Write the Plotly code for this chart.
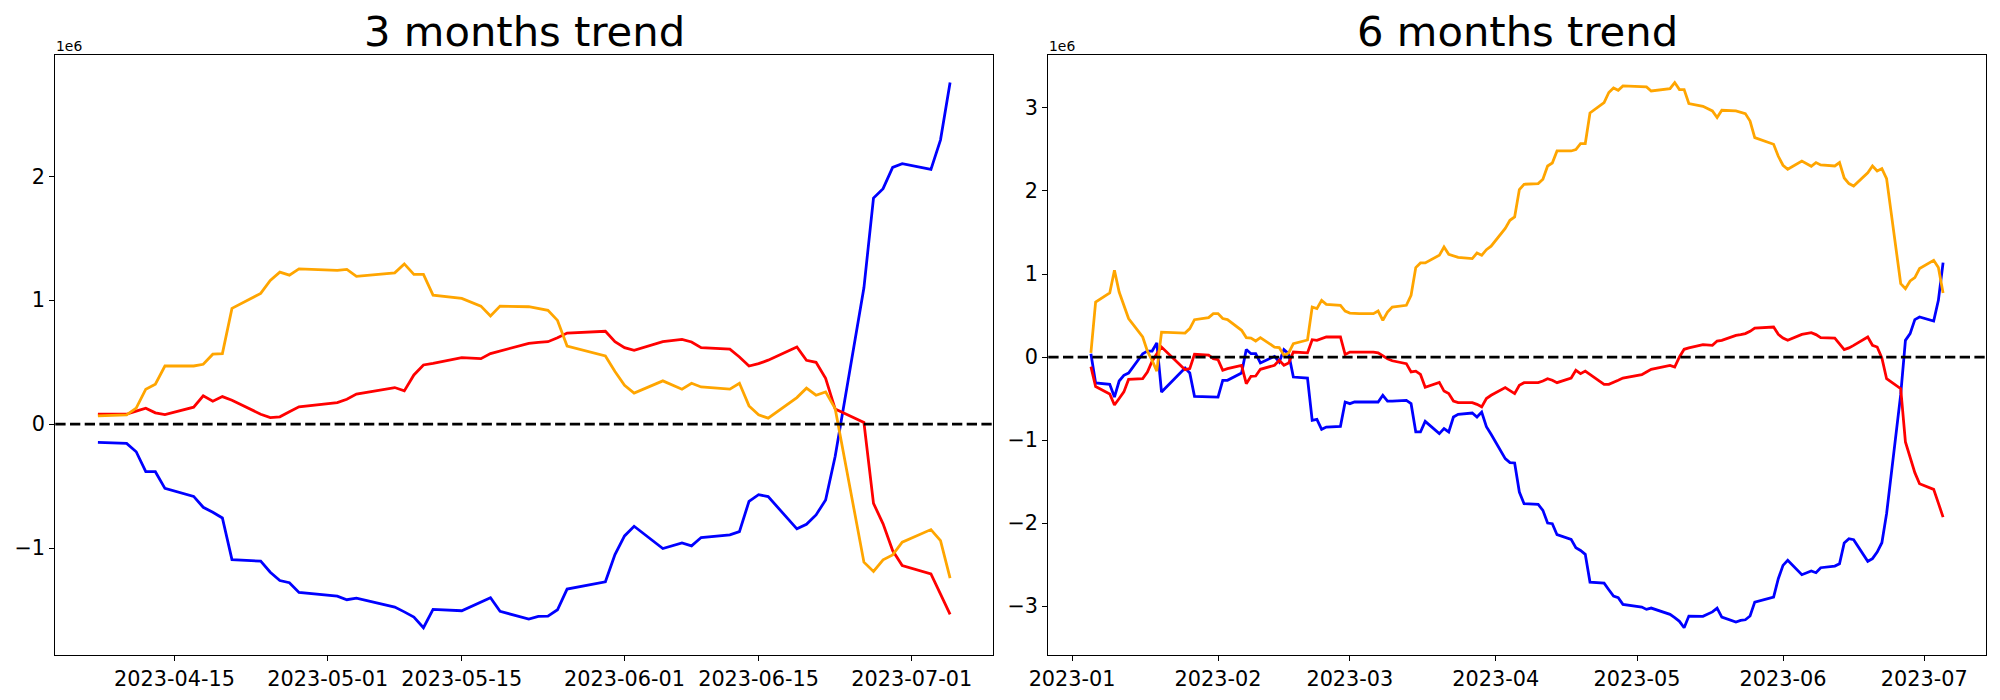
import plotly.graph_objects as go
import pandas as pd

# ---------------- data (values in units of 1e6) ----------------
dates_3m = [
    "2023-04-07", "2023-04-10", "2023-04-11", "2023-04-12", "2023-04-13", "2023-04-14",
    "2023-04-17", "2023-04-18", "2023-04-19", "2023-04-20", "2023-04-21",
    "2023-04-24", "2023-04-25", "2023-04-26", "2023-04-27", "2023-04-28",
    "2023-05-02", "2023-05-03", "2023-05-04",
    "2023-05-08", "2023-05-09", "2023-05-10", "2023-05-11", "2023-05-12",
    "2023-05-15", "2023-05-17", "2023-05-18", "2023-05-19",
    "2023-05-22", "2023-05-23", "2023-05-24", "2023-05-25", "2023-05-26",
    "2023-05-30", "2023-05-31", "2023-06-01", "2023-06-02",
    "2023-06-05", "2023-06-07", "2023-06-08", "2023-06-09",
    "2023-06-12", "2023-06-13", "2023-06-14", "2023-06-15", "2023-06-16",
    "2023-06-19", "2023-06-20", "2023-06-21", "2023-06-22", "2023-06-23",
    "2023-06-26", "2023-06-27", "2023-06-28", "2023-06-29", "2023-06-30",
    "2023-07-03", "2023-07-04", "2023-07-05",
]
blue_3m = [
    -0.148, -0.156, -0.223, -0.384, -0.384, -0.518,
    -0.583, -0.671, -0.711, -0.757, -1.093,
    -1.106, -1.195, -1.262, -1.280, -1.358,
    -1.388, -1.417, -1.404,
    -1.476, -1.515, -1.557, -1.643, -1.495,
    -1.506, -1.436, -1.401, -1.511,
    -1.573, -1.552, -1.549, -1.498, -1.331,
    -1.272, -1.052, -0.902, -0.824,
    -1.004, -0.958, -0.982, -0.915,
    -0.894, -0.867, -0.623, -0.569, -0.585,
    -0.845, -0.808, -0.733, -0.612, -0.260,
    1.100, 1.824, 1.900, 2.072, 2.101,
    2.056, 2.294, 2.756,
]
red_3m = [
    0.080, 0.080, 0.105, 0.129, 0.091, 0.077,
    0.137, 0.228, 0.185, 0.222, 0.193,
    0.080, 0.053, 0.059, 0.099, 0.139,
    0.174, 0.201, 0.242,
    0.295, 0.268, 0.397, 0.477, 0.490,
    0.536, 0.528, 0.569, 0.590,
    0.652, 0.660, 0.665, 0.697, 0.735,
    0.749, 0.665, 0.617, 0.596,
    0.665, 0.684, 0.663, 0.617,
    0.605, 0.542, 0.469, 0.488, 0.516,
    0.622, 0.515, 0.499, 0.370, 0.121,
    0.013, -0.639, -0.805, -1.020, -1.141,
    -1.208, -1.372, -1.535,
]
orange_3m = [
    0.067, 0.075, 0.129, 0.282, 0.322, 0.469,
    0.469, 0.483, 0.564, 0.569, 0.934,
    1.055, 1.159, 1.226, 1.202, 1.253,
    1.240, 1.248, 1.192,
    1.221, 1.293, 1.208, 1.208, 1.041,
    1.014, 0.952, 0.872, 0.952,
    0.947, 0.931, 0.918, 0.837, 0.630,
    0.550, 0.424, 0.314, 0.250,
    0.349, 0.282, 0.330, 0.300,
    0.282, 0.330, 0.147, 0.075, 0.048,
    0.214, 0.290, 0.233, 0.260, 0.125,
    -1.114, -1.189, -1.095, -1.055, -0.953,
    -0.851, -0.940, -1.243,
]

dates_6m = [
    "2023-01-05", "2023-01-06", "2023-01-09", "2023-01-10", "2023-01-11", "2023-01-12",
    "2023-01-13", "2023-01-16", "2023-01-17", "2023-01-18", "2023-01-19", "2023-01-20",
    "2023-01-25", "2023-01-26", "2023-01-27", "2023-01-30", "2023-01-31",
    "2023-02-01", "2023-02-02", "2023-02-03", "2023-02-06", "2023-02-07", "2023-02-08",
    "2023-02-09", "2023-02-10", "2023-02-13", "2023-02-14", "2023-02-15", "2023-02-16",
    "2023-02-17", "2023-02-20", "2023-02-21", "2023-02-22", "2023-02-23", "2023-02-24",
    "2023-02-27", "2023-02-28",
    "2023-03-01", "2023-03-02", "2023-03-03", "2023-03-06", "2023-03-07", "2023-03-08",
    "2023-03-09", "2023-03-10", "2023-03-13", "2023-03-14", "2023-03-15", "2023-03-16",
    "2023-03-17", "2023-03-20", "2023-03-21", "2023-03-22", "2023-03-23", "2023-03-24",
    "2023-03-27", "2023-03-28", "2023-03-29", "2023-03-30", "2023-03-31",
    "2023-04-03", "2023-04-04", "2023-04-05", "2023-04-06", "2023-04-07", "2023-04-10",
    "2023-04-11", "2023-04-12", "2023-04-13", "2023-04-14", "2023-04-17", "2023-04-18",
    "2023-04-19", "2023-04-20", "2023-04-21", "2023-04-24", "2023-04-25", "2023-04-26",
    "2023-04-27", "2023-04-28",
    "2023-05-02", "2023-05-03", "2023-05-04", "2023-05-08", "2023-05-09", "2023-05-10",
    "2023-05-11", "2023-05-12", "2023-05-15", "2023-05-17", "2023-05-18", "2023-05-19",
    "2023-05-22", "2023-05-23", "2023-05-24", "2023-05-25", "2023-05-26", "2023-05-30",
    "2023-05-31",
    "2023-06-01", "2023-06-02", "2023-06-05", "2023-06-07", "2023-06-08", "2023-06-09",
    "2023-06-12", "2023-06-13", "2023-06-14", "2023-06-15", "2023-06-16", "2023-06-19",
    "2023-06-20", "2023-06-21", "2023-06-22", "2023-06-23", "2023-06-26", "2023-06-27",
    "2023-06-28", "2023-06-29", "2023-06-30",
    "2023-07-03", "2023-07-04", "2023-07-05",
]
blue_6m = [
    0.040, -0.313, -0.329, -0.482, -0.289, -0.221, -0.193, 0.040, 0.072, 0.072, 0.169, -0.422,
    -0.133, -0.193, -0.473, -0.478, -0.480,
    -0.482, -0.281, -0.281, -0.193, 0.090, 0.040, 0.040, -0.072, 0.008, -0.060, 0.089, 0.040,
    -0.241, -0.253, -0.763, -0.751, -0.871, -0.843, -0.835, -0.542,
    -0.562, -0.542, -0.542, -0.542, -0.542, -0.461, -0.530, -0.530, -0.522, -0.562, -0.903, -0.903,
    -0.775, -0.923, -0.863, -0.903, -0.723, -0.690, -0.675, -0.723, -0.663, -0.840, -0.930,
    -1.224, -1.272, -1.276, -1.627, -1.767, -1.775, -1.847, -2.000, -2.008, -2.140, -2.197, -2.297,
    -2.330, -2.377, -2.711, -2.723, -2.803, -2.880, -2.899, -2.980,
    -3.012, -3.040, -3.024, -3.100, -3.140, -3.184, -3.261, -3.120, -3.124, -3.070, -3.024, -3.133,
    -3.193, -3.173, -3.165, -3.120, -2.952, -2.892, -2.671,
    -2.510, -2.449, -2.622, -2.578, -2.598, -2.538, -2.518, -2.490, -2.241, -2.188, -2.200, -2.461,
    -2.429, -2.349, -2.237, -1.887, -0.450, 0.201, 0.282, 0.450, 0.482,
    0.434, 0.683, 1.137,
]
red_6m = [
    -0.115, -0.355, -0.445, -0.578, -0.500, -0.420, -0.270, -0.260, -0.180, -0.050, 0.040, 0.120,
    -0.152, -0.140, 0.033, 0.024, -0.020,
    -0.032, -0.160, -0.140, -0.100, -0.321, -0.233, -0.229, -0.148, -0.100, -0.040, -0.100, -0.072,
    0.060, 0.050, 0.209, 0.201, 0.220, 0.241, 0.241, 0.030,
    0.060, 0.060, 0.060, 0.060, 0.050, 0.010, -0.020, -0.045, -0.080, -0.180, -0.170, -0.210,
    -0.365, -0.305, -0.410, -0.440, -0.530, -0.550, -0.550, -0.570, -0.600, -0.500, -0.461,
    -0.369, -0.410, -0.441, -0.340, -0.309, -0.309, -0.290, -0.261, -0.280, -0.309, -0.253, -0.160,
    -0.200, -0.169, -0.210, -0.329, -0.329, -0.300, -0.280, -0.253,
    -0.212, -0.180, -0.148, -0.100, -0.120, 0.000, 0.093, 0.110, 0.149, 0.141, 0.193, 0.200,
    0.261, 0.270, 0.282, 0.310, 0.349, 0.361, 0.273,
    0.229, 0.201, 0.273, 0.294, 0.270, 0.234, 0.229, 0.160, 0.089, 0.110, 0.140, 0.241,
    0.141, 0.120, -0.010, -0.261, -0.381, -1.024, -1.205, -1.393, -1.526,
    -1.594, -1.760, -1.928,
]
orange_6m = [
    0.050, 0.663, 0.771, 1.045, 0.783, 0.620, 0.463, 0.241, 0.070, -0.040, -0.170, 0.300,
    0.289, 0.342, 0.450, 0.474, 0.523,
    0.523, 0.463, 0.450, 0.322, 0.234, 0.229, 0.193, 0.234, 0.120, 0.113, 0.020, 0.050,
    0.161, 0.205, 0.602, 0.583, 0.683, 0.635, 0.623, 0.554,
    0.530, 0.523, 0.523, 0.523, 0.554, 0.442, 0.542, 0.602, 0.623, 0.743, 1.077, 1.133,
    1.133, 1.225, 1.325, 1.237, 1.221, 1.200, 1.185, 1.253, 1.225, 1.293, 1.335,
    1.550, 1.647, 1.687, 2.017, 2.081, 2.089, 2.141, 2.301, 2.337, 2.482, 2.482, 2.499,
    2.571, 2.571, 2.940, 3.065, 3.186, 3.241, 3.213, 3.265,
    3.258, 3.253, 3.205, 3.233, 3.306, 3.221, 3.221, 3.053, 3.020, 2.964, 2.884, 2.972,
    2.964, 2.950, 2.932, 2.843, 2.643, 2.563, 2.418,
    2.310, 2.261, 2.361, 2.298, 2.342, 2.313, 2.301, 2.342, 2.157, 2.089, 2.060, 2.220,
    2.301, 2.241, 2.270, 2.149, 0.884, 0.824, 0.916, 0.957, 1.065,
    1.165, 1.077, 0.771,
]

titles = ["3 months trend", "6 months trend"]
xtick_vals_3m = ["2023-04-15", "2023-05-01", "2023-05-15", "2023-06-01", "2023-06-15", "2023-07-01"]
xtick_text_3m = ["2023-04-15", "2023-05-01", "2023-05-15", "2023-06-01", "2023-06-15", "2023-07-01"]
xtick_vals_6m = ["2023-01-01", "2023-02-01", "2023-03-01", "2023-04-01", "2023-05-01", "2023-06-01", "2023-07-01"]
xtick_text_6m = ["2023-01", "2023-02", "2023-03", "2023-04", "2023-05", "2023-06", "2023-07"]
ytick_vals_3m = [-1, 0, 1, 2]
ytick_vals_6m = [-3, -2, -1, 0, 1, 2, 3]
offset_label = "1e6"

series_colors = {"blue": "#0000ff", "red": "#ff0000", "orange": "#ffa500"}

# ---------------- helpers ----------------
def pad_dates(dates, frac=0.05):
    d = pd.to_datetime(pd.Series(dates))
    lo, hi = d.min(), d.max()
    span = hi - lo
    return [(lo - span * frac).isoformat(), (hi + span * frac).isoformat()]


def pad_vals(*series, frac=0.05):
    allv = [v for s in series for v in s]
    lo, hi = min(allv), max(allv)
    span = hi - lo
    return [lo - span * frac, hi + span * frac]


def minus(v):
    return str(v).replace("-", "\u2212")


# page body has an 8px default margin: size the figure so it fits the window
PAGE_PAD = 8
W, H = 2000 - PAGE_PAD, 700 - PAGE_PAD


def px_x(p):
    return (p - PAGE_PAD) / W


def px_y(p):
    return 1 - (p - PAGE_PAD) / H


x_dom = [[px_x(55.3), px_x(992.7)], [px_x(1048.3), px_x(1985.7)]]
y_dom = [px_y(655), px_y(55.3)]

fig = go.Figure()
panels = [
    (dates_3m, blue_3m, red_3m, orange_3m, "x", "y"),
    (dates_6m, blue_6m, red_6m, orange_6m, "x2", "y2"),
]
for dates, b, r, o, xa, ya in panels:
    for vals, c in ((b, "blue"), (r, "red"), (o, "orange")):
        fig.add_trace(go.Scatter(
            x=dates, y=vals, mode="lines", xaxis=xa, yaxis=ya,
            line=dict(color=series_colors[c], width=2.78),
            hoverinfo="skip", showlegend=False,
        ))

axis_common = dict(
    showgrid=False, zeroline=False, showline=True, linecolor="black", linewidth=1.1,
    mirror=True, ticks="outside", ticklen=5, tickwidth=1.1, tickcolor="black",
    automargin=False,
    tickfont=dict(family="DejaVu Sans", size=20.8, color="black"),
)

fig.update_layout(
    width=W, height=H,
    margin=dict(l=0, r=0, t=0, b=0, autoexpand=False),
    paper_bgcolor="white", plot_bgcolor="white",
    showlegend=False,
    font=dict(family="DejaVu Sans", color="black"),
    xaxis=dict(domain=x_dom[0], anchor="y", type="date", range=pad_dates(dates_3m),
               tickmode="array", tickvals=xtick_vals_3m, ticktext=xtick_text_3m, **axis_common),
    yaxis=dict(domain=y_dom, anchor="x", range=pad_vals(blue_3m, red_3m, orange_3m),
               tickmode="array", tickvals=ytick_vals_3m,
               ticktext=[minus(v) for v in ytick_vals_3m], **axis_common),
    xaxis2=dict(domain=x_dom[1], anchor="y2", type="date", range=pad_dates(dates_6m),
                tickmode="array", tickvals=xtick_vals_6m, ticktext=xtick_text_6m, **axis_common),
    yaxis2=dict(domain=y_dom, anchor="x2", range=pad_vals(blue_6m, red_6m, orange_6m),
                tickmode="array", tickvals=ytick_vals_6m,
                ticktext=[minus(v) for v in ytick_vals_6m], **axis_common),
)

# zero reference lines
for xa, ya in (("x", "y"), ("x2", "y2")):
    fig.add_shape(type="line", xref=f"{xa} domain", x0=0, x1=1, yref=ya, y0=0, y1=0,
                  line=dict(color="black", width=2.78, dash="10.3px,4.4px"), layer="above")

# titles and offset labels
for i, t in enumerate(titles):
    fig.add_annotation(text=t, xref="paper", yref="paper",
                       x=(x_dom[i][0] + x_dom[i][1]) / 2, y=px_y(31),
                       xanchor="center", yanchor="middle", showarrow=False,
                       font=dict(family="DejaVu Sans", size=41.7, color="black"))
    fig.add_annotation(text=offset_label, xref="paper", yref="paper",
                       x=x_dom[i][0], y=y_dom[1], xanchor="left", yanchor="bottom",
                       showarrow=False, borderpad=0,
                       font=dict(family="DejaVu Sans", size=13.9, color="black"))

fig.write_html("out.html")
